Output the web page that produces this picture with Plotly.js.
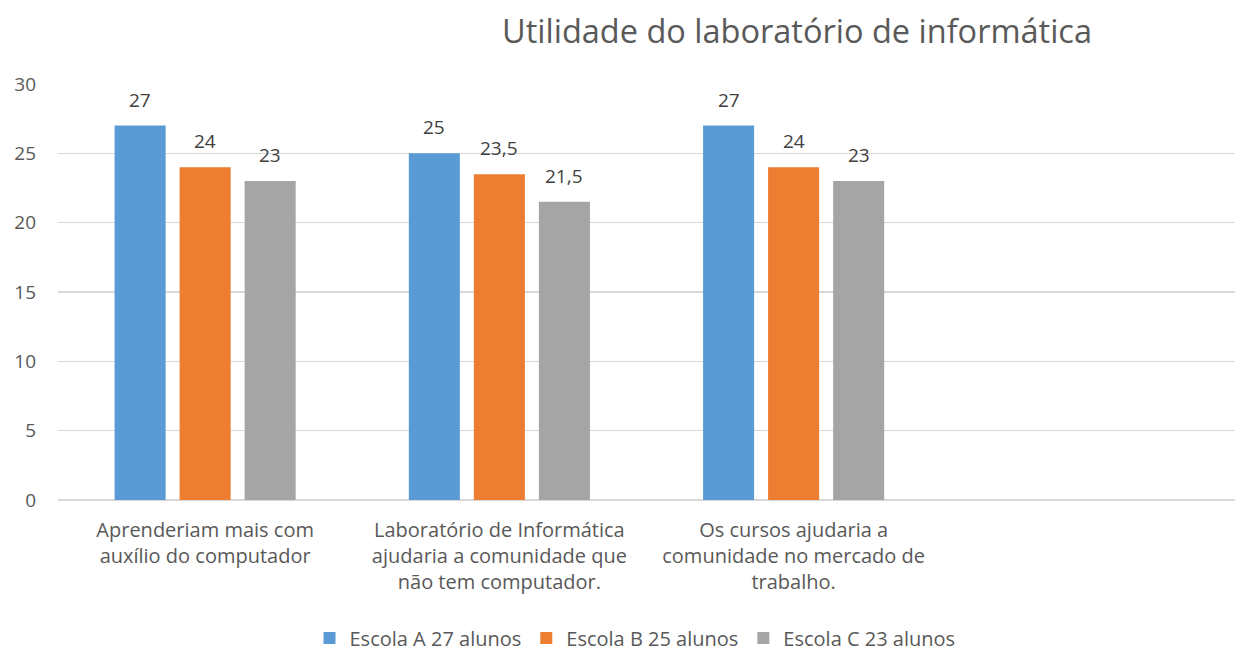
<!DOCTYPE html>
<html><head><meta charset="utf-8">
<script src="https://cdn.plot.ly/plotly-3.0.1.min.js"></script>
<style>html,body{margin:0;padding:0;background:#fff}</style>
</head><body>
<div id="chart" style="width:1243px;height:655px"></div>
<script>
const categories = [
  "Aprenderiam mais com<br>auxílio do computador",
  "Laboratório de Informática<br>ajudaria a comunidade que<br>não tem computador.",
  "Os cursos ajudaria a<br>comunidade no mercado de<br>trabalho.",
  " "
];
const seriesNames = ["Escola A 27 alunos", "Escola B 25 alunos", "Escola C 23 alunos"];
const escolaA = [27, 25, 27, null];
const escolaB = [24, 23.5, 24, null];
const escolaC = [23, 21.5, 23, null];
const colors = ["#5B9BD5", "#ED7D31", "#A5A5A5"];
const yTicks = [0, 5, 10, 15, 20, 25, 30];

const font = "'Open Sans', 'Noto Sans', sans-serif";
const series = [escolaA, escolaB, escolaC];
const bargap = 0.337;
const traces = series.map((vals, i) => ({
  type: "bar",
  name: seriesNames[i],
  x: categories,
  y: vals,
  marker: {color: colors[i]},
  hoverinfo: "none"
}));

// data labels anchored to each bar's value via the axes
const annotations = [];
const slot = (1 - bargap) / series.length;
series.forEach((vals, i) => {
  vals.forEach((v, j) => {
    if (v === null) return;
    annotations.push({
      x: j + (i - (series.length - 1) / 2) * slot, y: v, xref: "x", yref: "y",
      text: String(v).replace(".", ","), showarrow: false,
      yanchor: "middle", xanchor: "center", yshift: 26,
      font: {family: font, size: 19, color: "#404040"}
    });
  });
});

const layout = {
  width: 1243, height: 655,
  margin: {l: 58, r: 8, t: 84, b: 155},
  separators: ",.",
  paper_bgcolor: "#fff", plot_bgcolor: "#fff",
  font: {family: font, color: "#595959", size: 19},
  title: {text: "Utilidade do laboratório de informática", x: 797/1243, xanchor: "center", xref: "container",
          y: 1 - 32/655, yref: "container", yanchor: "middle",
          font: {family: font, size: 32.5, color: "#595959"}},
  barmode: "group",
  bargap: bargap,
  bargroupgap: 0.215,
  annotations: annotations,
  xaxis: {type: "category", categoryorder: "array", categoryarray: categories,
          showgrid: false, showline: false, ticks: "", ticklabelstandoff: 16,
          tickfont: {family: font, size: 20, color: "#595959"}, automargin: false},
  yaxis: {range: [0, 30], tickvals: yTicks, showgrid: true, gridcolor: "#D9D9D9", gridwidth: 1.3,
          zeroline: true, zerolinecolor: "#D9D9D9", zerolinewidth: 1.3, showline: false, ticks: "",
          tickfont: {family: font, size: 19, color: "#595959"}, automargin: false, ticklabelstandoff: 21},
  showlegend: true,
  legend: {orientation: "h", x: 635/1243, xanchor: "center", xref: "container", y: 17/655, yref: "container", yanchor: "middle",
           itemwidth: 30,
           font: {family: font, size: 20, color: "#595959"}, traceorder: "normal"}
};
Plotly.newPlot("chart", traces, layout, {displayModeBar: false, staticPlot: true});
</script>
</body></html>
